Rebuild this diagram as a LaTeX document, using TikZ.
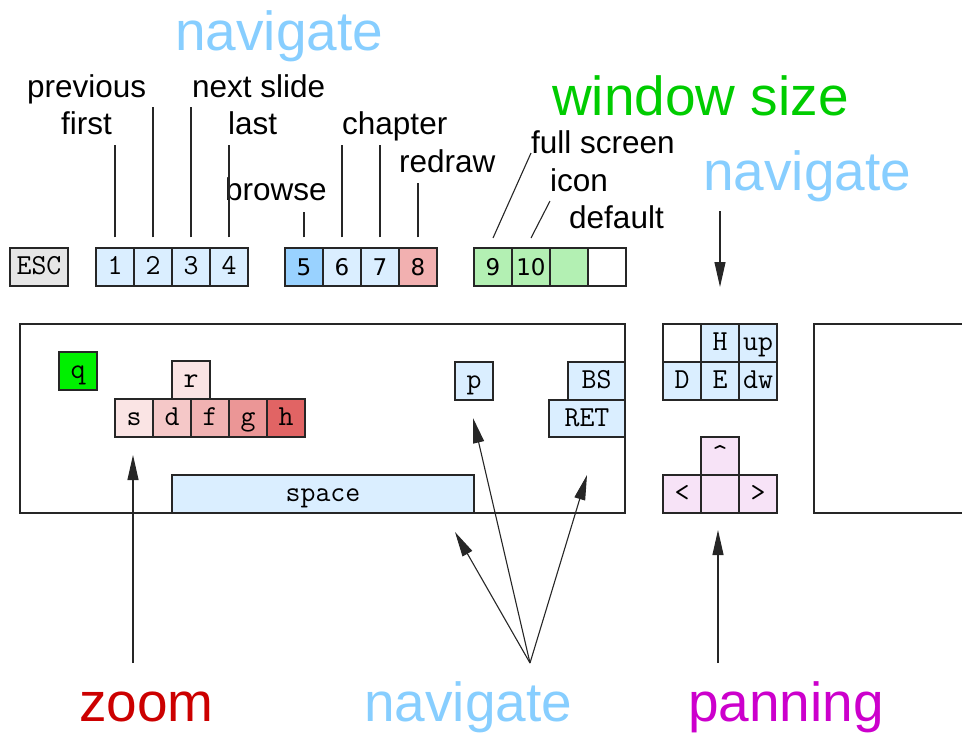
\documentclass[tikz,border=0pt]{standalone}
\usepackage{fontspec}
\setmainfont{Liberation Sans}
\newfontfamily\digitfont{DejaVu Sans}
\usetikzlibrary{arrows.meta}
\definecolor{keyblue}{RGB}{218,238,255}
\definecolor{blueV}{RGB}{153,210,255}
\definecolor{redVIII}{RGB}{242,176,176}
\definecolor{greenL}{RGB}{179,240,179}
\definecolor{greenQ}{RGB}{0,240,0}
\definecolor{redR}{RGB}{250,228,228}
\definecolor{redD}{RGB}{245,200,200}
\definecolor{redF}{RGB}{240,178,178}
\definecolor{redG}{RGB}{235,150,150}
\definecolor{redH}{RGB}{225,100,100}
\definecolor{panC}{RGB}{247,227,247}
\definecolor{escgray}{RGB}{230,230,230}
\definecolor{navblue}{RGB}{135,206,255}
\definecolor{wingreen}{RGB}{0,204,0}
\definecolor{zoomred}{RGB}{204,0,0}
\definecolor{panmag}{RGB}{204,0,204}
\tikzset{
  keybox/.style={draw=black!85, line width=1.1pt, minimum width=38pt, minimum height=38pt, inner sep=0pt,
    text height=15pt, text depth=0pt,
    font=\ttfamily\fontsize{29}{31}\selectfont},
  digkey/.style={keybox, text height=16pt, font=\digitfont\fontsize{23}{25}\selectfont},
  biglabel/.style={anchor=base west, inner sep=0pt, font=\fontsize{55}{60}\selectfont},
  smalllabel/.style={anchor=base west, inner sep=0pt, font=\fontsize{31.5}{34}\selectfont},
  conn/.style={line width=1.1pt, draw=black!85},
  arr/.style={conn, -{Triangle[length=25pt,width=11pt]}},
  frame/.style={draw=black!85, line width=1.1pt}
}
\begin{document}
\begin{tikzpicture}[x=1pt,y=-1pt]
\useasboundingbox (0,0) rectangle (962,732);
% top key row
\node[keybox, fill=escgray, minimum width=58pt] (esc) at (39,267) {ESC};
\node[keybox, fill=keyblue] (k1) at (115,267) {1};
\node[keybox, fill=keyblue] (k2) at (153,267) {2};
\node[keybox, fill=keyblue] (k3) at (191,267) {3};
\node[keybox, fill=keyblue] (k4) at (229,267) {4};
\node[digkey, fill=blueV] (k5) at (304,267) {5};
\node[digkey, fill=keyblue] (k6) at (342,267) {6};
\node[digkey, fill=keyblue] (k7) at (380,267) {7};
\node[digkey, fill=redVIII] (k8) at (418,267) {8};
\node[digkey, fill=greenL] (k9) at (493,267) {9};
\node[digkey, fill=greenL] (k10) at (531,267) {10};
\node[digkey, fill=greenL] (k11) at (569,267) {};
\node[digkey, fill=white] (k12) at (607,267) {};
% main keyboard frame
\draw[frame] (20,324) rectangle (625,513);
\node[keybox, fill=greenQ] (q) at (78,371) {q};
\node[keybox, fill=redR] (r) at (191,380) {r};
\node[keybox, fill=redR] (s) at (134,418) {s};
\node[keybox, fill=redD] (d) at (172,418) {d};
\node[keybox, fill=redF] (f) at (210,418) {f};
\node[keybox, fill=redG] (g) at (248,418) {g};
\node[keybox, fill=redH] (h) at (286,418) {h};
\node[keybox, fill=keyblue, minimum width=302pt] (space) at (323,494) {space};
\node[keybox, fill=keyblue] (p) at (474,381) {p};
\node[keybox, fill=keyblue, minimum width=57pt] (bs) at (596.5,381) {BS};
\node[keybox, fill=keyblue, minimum width=76pt, minimum height=37pt] (ret) at (587,418.5) {RET};
% right cluster
\node[keybox, fill=white] (blank) at (682,343) {};
\node[keybox, fill=keyblue] (hk) at (720,343) {H};
\node[keybox, fill=keyblue] (up) at (758,343) {up};
\node[keybox, fill=keyblue] (dk) at (682,381) {D};
\node[keybox, fill=keyblue] (ek) at (720,381) {E};
\node[keybox, fill=keyblue] (dw) at (758,381) {dw};
\node[keybox, fill=panC] (caret) at (720,456) {\char`\^};
\node[keybox, fill=panC] (lt) at (682,494) {<};
\node[keybox, fill=panC] (mid) at (720,494) {};
\node[keybox, fill=panC] (gt) at (758,494) {>};
\draw[frame] (814,324) rectangle (1000,513);
% labels
\node[biglabel, text=navblue] (navtop) at (175,50) {navigate};
\node[smalllabel] (lprev) at (27,97) {previous};
\node[smalllabel] (lfirst) at (61,134) {first};
\node[smalllabel] (lnext) at (192,97) {next slide};
\node[smalllabel] (llast) at (228,134) {last};
\node[smalllabel] (lbrowse) at (225,200) {browse};
\node[smalllabel] (lchap) at (342,134) {chapter};
\node[smalllabel] (lredraw) at (399,172) {redraw};
\node[biglabel, text=wingreen] (lwin) at (552,115) {window size};
\node[smalllabel] (lfull) at (531,153) {full screen};
\node[smalllabel] (licon) at (550,191) {icon};
\node[smalllabel] (ldef) at (569,228) {default};
\node[biglabel, text=navblue] (navright) at (703,190) {navigate};
\node[biglabel, text=zoomred] (lzoom) at (79,721) {zoom};
\node[biglabel, text=navblue] (navbot) at (364,721) {navigate};
\node[biglabel, text=panmag] (lpan) at (688,721) {panning};
% connector end coordinates
\coordinate (c1) at (115,145);
\coordinate (c2) at (153,107);
\coordinate (c3) at (191,107);
\coordinate (c4) at (229,145);
\coordinate (c5) at (304,212);
\coordinate (c6) at (342,145);
\coordinate (c7) at (380,145);
\coordinate (c8) at (418,183);
\coordinate (c9) at (531,153);
\coordinate (c10) at (550,201);
\coordinate (b9) at (493,238);
\coordinate (b10) at (531,238);
\coordinate (navA) at (720,211);
\coordinate (navB) at (720,287);
\coordinate (zoomS) at (133,663);
\coordinate (zoomT) at (133,455);
\coordinate (navS) at (530,663);
\coordinate (navT1) at (455,532);
\coordinate (navT2) at (473,418);
\coordinate (navT3) at (587,475);
\coordinate (panS) at (718,663);
\coordinate (panT) at (718,530);
% connectors
\foreach \k/\c in {k1/c1,k2/c2,k3/c3,k4/c4,k5/c5,k6/c6,k7/c7,k8/c8}
  \draw[conn] ([yshift=10pt]\k.north) -- (\c);
\draw[conn] (b9) -- (c9);
\draw[conn] (b10) -- (c10);
\draw[arr] (navA) -- (navB);
\draw[arr] (zoomS) -- (zoomT);
\draw[arr] (navS) -- (navT1);
\draw[arr] (navS) -- (navT2);
\draw[arr] (navS) -- (navT3);
\draw[arr] (panS) -- (panT);
\end{tikzpicture}
\end{document}
